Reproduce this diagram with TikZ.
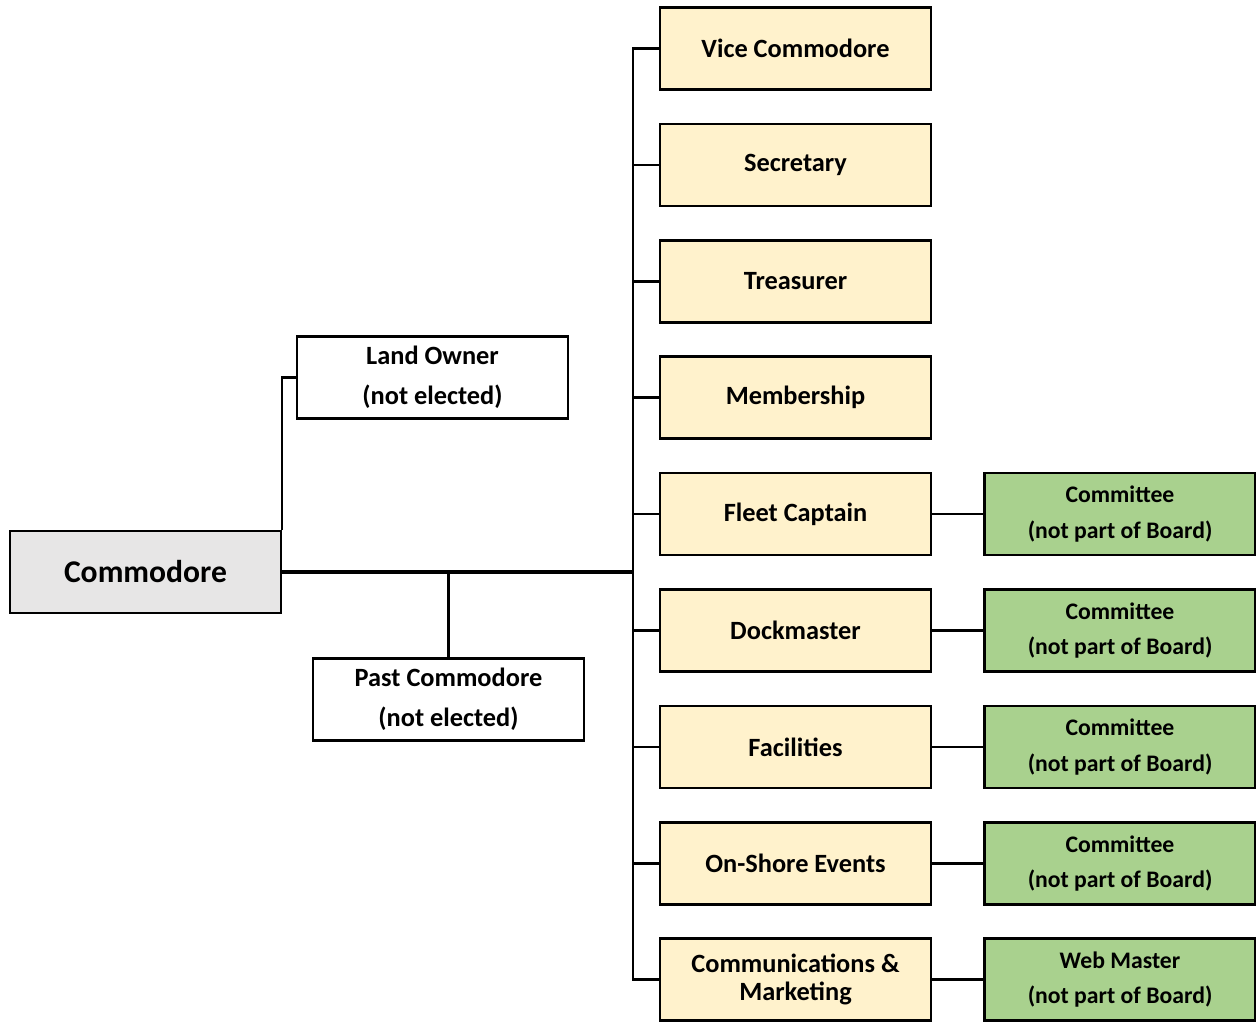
\documentclass[tikz,border=0pt]{standalone}
\usepackage{fontspec}
\setmainfont{Carlito}
\usepackage{tikz}
\usetikzlibrary{positioning,calc}

\definecolor{cmdgray}{HTML}{E7E6E6}
\definecolor{boardyellow}{HTML}{FFF2CC}
\definecolor{cttgreen}{HTML}{A9D18E}

\tikzset{
  box/.style={draw,line width=1.2pt,minimum width=5.42cm,minimum height=1.64cm,inner sep=0pt,align=center,font=\bfseries\fontsize{15}{22.7}\selectfont},
  cmdbox/.style={box,fill=cmdgray,font=\bfseries\fontsize{18}{22}\selectfont},
  boardbox/.style={box,fill=boardyellow},
  cttbox/.style={box,fill=cttgreen,font=\bfseries\fontsize{13.5}{20.4}\selectfont},
  link/.style={line width=1.3pt},
  mainlink/.style={line width=1.9pt}
}

\begin{document}
\begin{tikzpicture}[x=0.02cm,y=-0.02cm]
\useasboundingbox (0,0) rectangle (1256,1021);
\coordinate (bus) at (633,0);
% left side
\node[cmdbox] (cmd) at (145.5,572) {Commodore};
\node[box] (land) at (432.5,377.5) {Land Owner\\(not elected)};
\node[box] (past) at (448.5,699.5) {Past Commodore\\(not elected)};
% board members
\node[boardbox] (vc) at (795.5,48.5) {Vice Commodore};
\node[boardbox] (sec) at (795.5,165) {Secretary};
\node[boardbox] (tre) at (795.5,281.5) {Treasurer};
\node[boardbox] (mem) at (795.5,397.5) {Membership};
\node[boardbox] (fc) at (795.5,514) {Fleet Captain};
\node[boardbox] (dock) at (795.5,630.5) {Dockmaster};
\node[boardbox] (fac) at (795.5,747) {Facilities};
\node[boardbox] (ose) at (795.5,863.5) {On-Shore Events};
\node[boardbox,font=\bfseries\fontsize{15}{16}\selectfont] (cm) at (795.5,979.5) {Communications \&\\Marketing};
% committees
\node[cttbox] (fcc) at (1120,514) {Committee\\(not part of Board)};
\node[cttbox] (dockc) at (1120,630.5) {Committee\\(not part of Board)};
\node[cttbox] (facc) at (1120,747) {Committee\\(not part of Board)};
\node[cttbox] (osec) at (1120,863.5) {Committee\\(not part of Board)};
\node[cttbox] (cmc) at (1120,979.5) {Web Master\\(not part of Board)};
% connectors
\draw[mainlink] (cmd.east) -- (cmd.east -| bus);
\draw[link] (cmd.north east) |- (land.west);
\draw[link] (past.north) -- (past.north |- cmd.east);
\draw[link] (vc.west) -- (vc.west -| bus) -- (cm.west -| bus) -- (cm.west);
\draw[link] (sec.west) -- (sec.west -| bus);
\draw[link] (tre.west) -- (tre.west -| bus);
\draw[link] (mem.west) -- (mem.west -| bus);
\draw[link] (fc.west) -- (fc.west -| bus);
\draw[link] (dock.west) -- (dock.west -| bus);
\draw[link] (fac.west) -- (fac.west -| bus);
\draw[link] (ose.west) -- (ose.west -| bus);
\draw[link] (fc.east) -- (fcc.west);
\draw[link] (dock.east) -- (dockc.west);
\draw[link] (fac.east) -- (facc.west);
\draw[link] (ose.east) -- (osec.west);
\draw[link] (cm.east) -- (cmc.west);
\end{tikzpicture}
\end{document}
